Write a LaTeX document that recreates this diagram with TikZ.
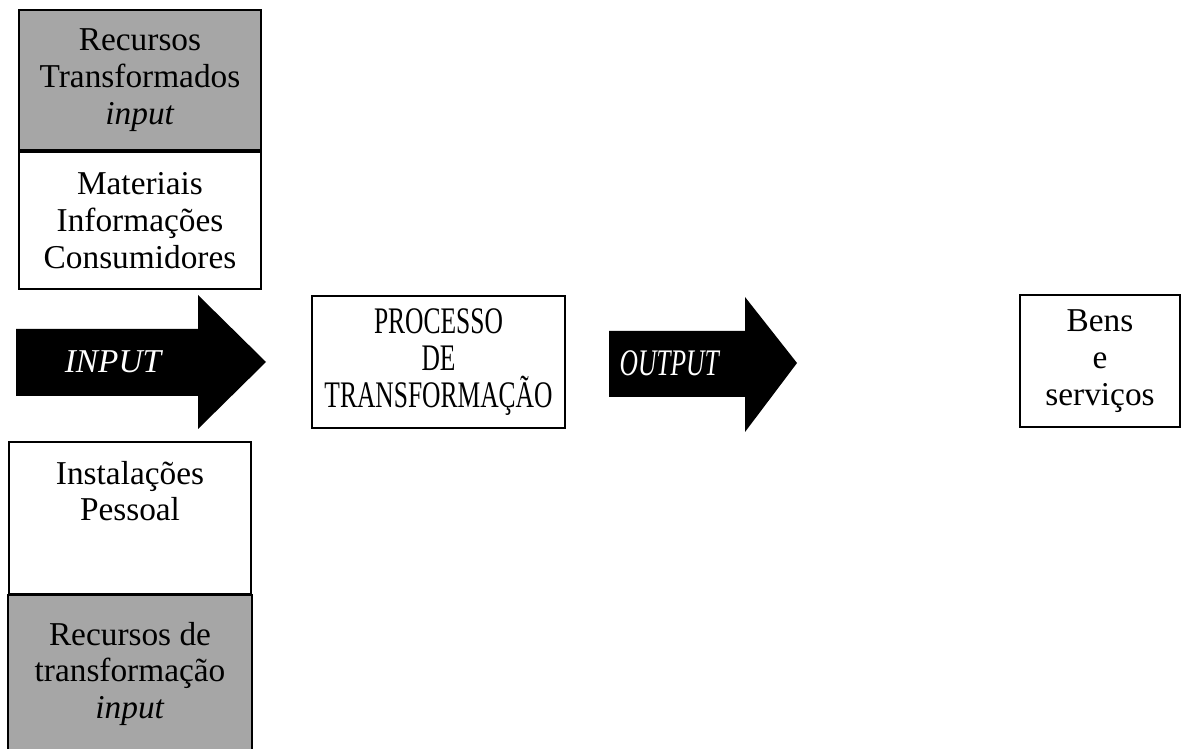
\documentclass[tikz,border=0pt]{standalone}
\usepackage{graphicx}
\usepackage{fontspec}
\setmainfont{Liberation Serif}
\usepackage{tikz}
\usetikzlibrary{positioning,calc}
\definecolor{boxgrey}{RGB}{166,166,166}
\tikzset{box/.style={draw,line width=.8pt,inner sep=0pt,align=center,minimum width=87.12pt},gbox/.style={box,fill=boxgrey},lbl/.style={inner sep=0pt,align=center}}
\tikzset{blk/.style={fill=black},every node/.append style={font=\fontsize{12}{13.2}\selectfont},big/.style={font=\fontsize{13.5}{13.2}\selectfont}}
\newcommand{\nrw}[1]{\scalebox{.68}[1]{#1}}

\begin{document}
\begin{tikzpicture}[x=0.36pt,y=-0.36pt]
\useasboundingbox (0,0) rectangle (1181,749);
\node[gbox,minimum height=50.4pt] (t1) at (140,80) {Recursos\\Transformados\\\textit{input}};
\node[box,minimum height=49.32pt,below=0pt of t1] (t2) {Materiais\\Informações\\Consumidores};
\node[box,minimum height=54.72pt] (b1) at (130,518) {};
\node[lbl] (b1t) at (130,491) {Instalações\\Pessoal};
\node[gbox,draw=none,minimum height=55.8pt,below=0pt of b1] (b2) {Recursos de\\transformação\\\textit{input}};
\node[box,big,minimum width=91.08pt,minimum height=47.52pt] (p) at (438.5,362) {\nrw{PROCESSO}\\\nrw{DE}\\\nrw{TRANSFORMAÇÃO}};
\node[box,minimum width=57.6pt,minimum height=47.52pt] (bs) at (1100,361) {Bens\\e\\serviços};
\draw[line width=.8pt] (b2.south west) -- (b2.north west) -- (b2.north east) -- (b2.south east);
\fill[blk] (16,329) -- (198,329) -- (198,295) -- (266,362) -- (198,429) -- (198,396) -- (16,396) -- cycle;
\fill[blk] (609,331) -- (745,331) -- (745,297) -- (797,363) -- (745,432) -- (745,397) -- (609,397) -- cycle;
\node[lbl,text=white] (in) at (114,362) {\textit{INPUT}};
\node[lbl,big,text=white] (out) at (670,363) {\nrw{\textit{OUTPUT}}};
\end{tikzpicture}
\end{document}
